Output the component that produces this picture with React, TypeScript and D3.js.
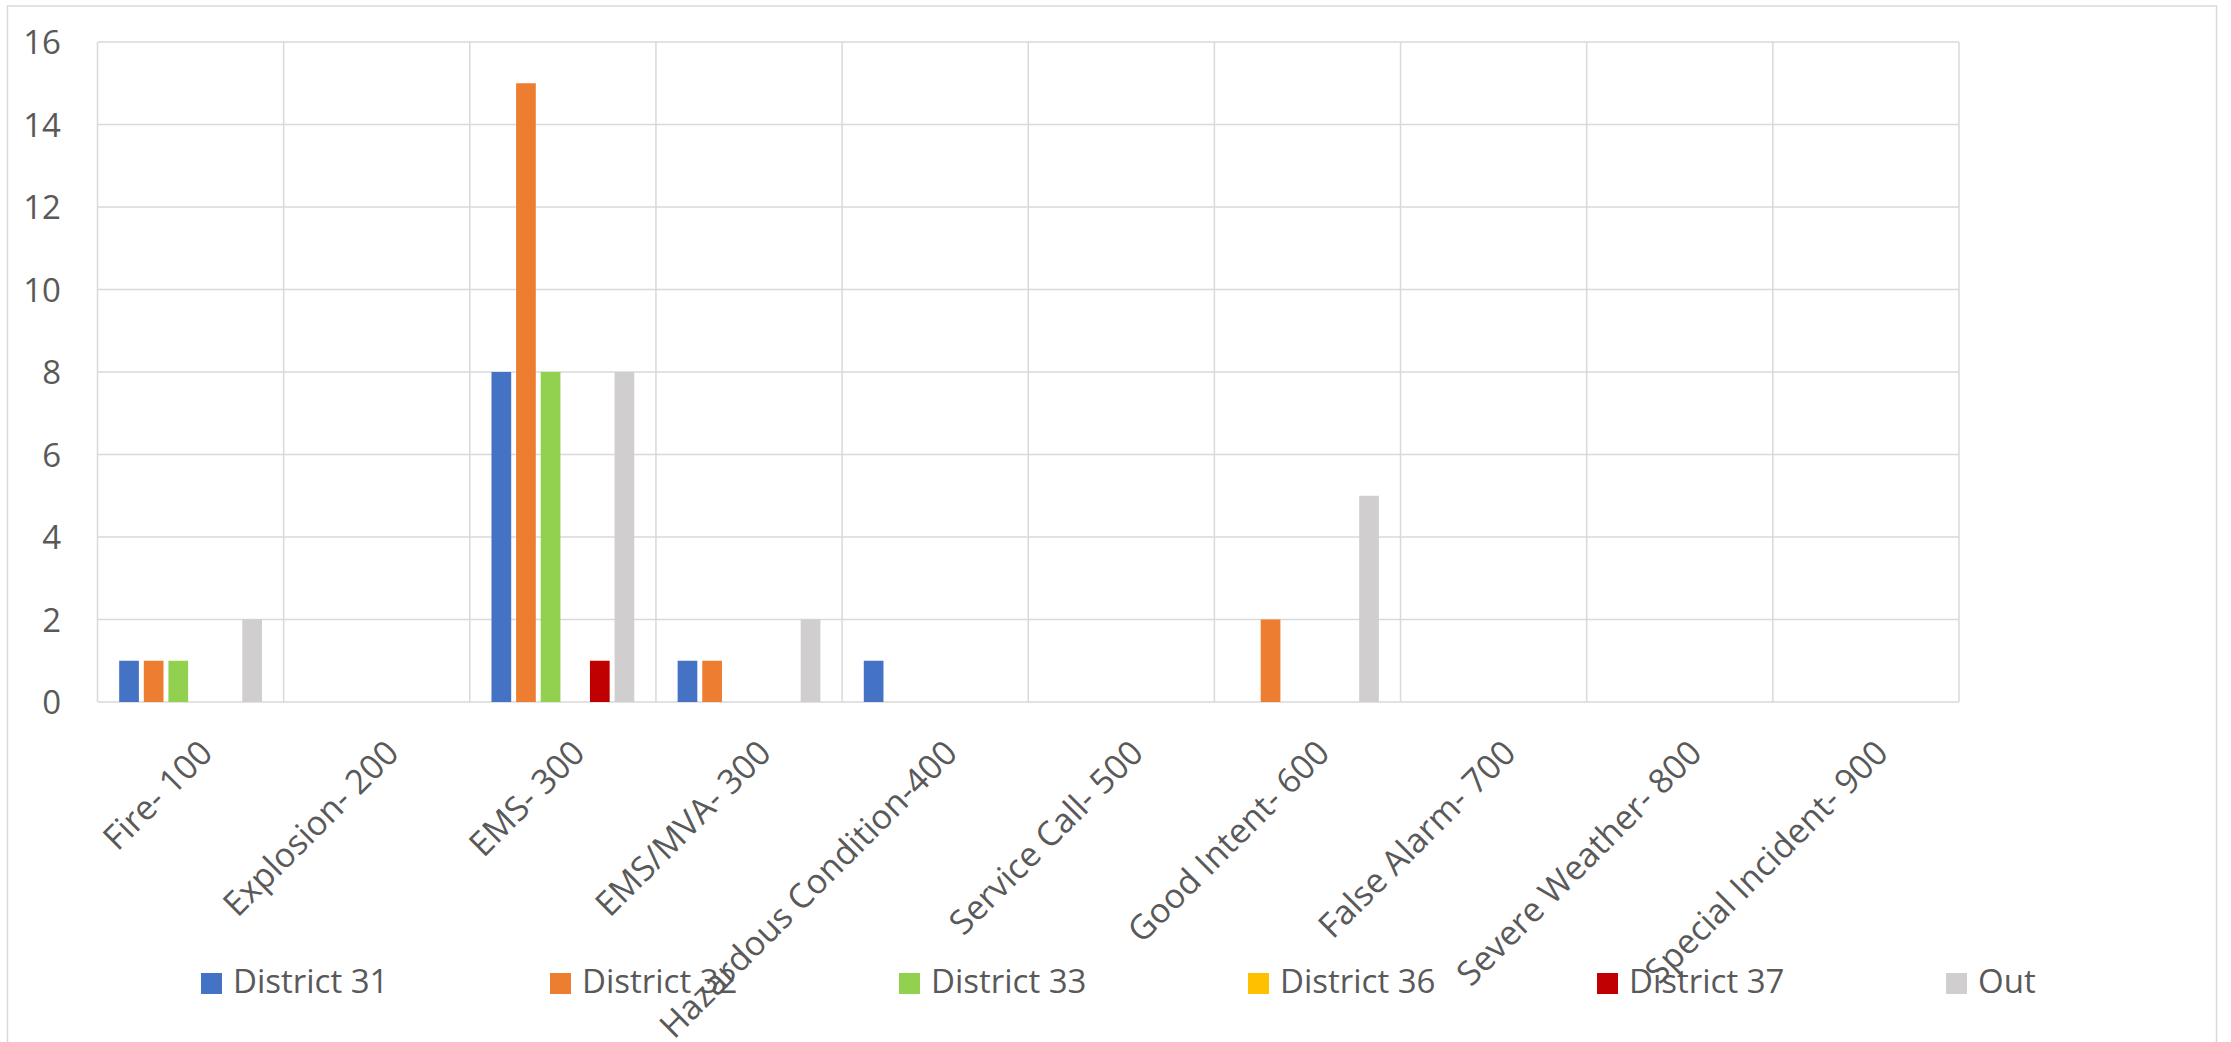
import React from "react";
import { scaleBand, scaleLinear, range } from "d3";

const categories = [
  "Fire- 100",
  "Explosion- 200",
  "EMS- 300",
  "EMS/MVA- 300",
  "Hazardous Condition-400",
  "Service Call- 500",
  "Good Intent- 600",
  "False Alarm- 700",
  "Severe Weather- 800",
  "Special Incident- 900",
];

const seriesNames = ["District 31", "District 32", "District 33", "District 36", "District 37", "Out"];
const seriesColors = ["#4472C4", "#ED7D31", "#92D050", "#FFC000", "#C00000", "#D0CECE"];

const district31 = [1, 0, 8, 1, 1, 0, 0, 0, 0, 0];
const district32 = [1, 0, 15, 1, 0, 0, 2, 0, 0, 0];
const district33 = [1, 0, 8, 0, 0, 0, 0, 0, 0, 0];
const district36 = [0, 0, 0, 0, 0, 0, 0, 0, 0, 0];
const district37 = [0, 0, 1, 0, 0, 0, 0, 0, 0, 0];
const out = [2, 0, 8, 2, 0, 0, 5, 0, 0, 0];

const seriesValues = [district31, district32, district33, district36, district37, out];
const yTicks = [0, 2, 4, 6, 8, 10, 12, 14, 16];

const WIDTH = 2231;
const HEIGHT = 1042;
const FONT = "'Open Sans', sans-serif";
const TEXT = "#595959";
const GRID = "#D9D9D9";

const App = () => {
  const plot = { left: 97.5, right: 1959, top: 42, bottom: 702 };

  const x0 = scaleBand<string>().domain(categories).range([plot.left, plot.right]).padding(0);
  const groupPad = x0.bandwidth() * 0.1165;
  const x1 = scaleBand<string>()
    .domain(seriesNames)
    .range([groupPad, x0.bandwidth() - groupPad])
    .paddingInner(0.2)
    .paddingOuter(0);
  const y = scaleLinear().domain([0, 16]).range([plot.bottom, plot.top]);

  const bounds = range(categories.length + 1).map((i) => plot.left + i * x0.step());

  return (
    <div style={{ position: "absolute", left: 0, top: 0 }}>
      <svg width={WIDTH} height={HEIGHT} style={{ display: "block", background: "#fff" }}>
        {/* chart border */}
        <rect x={7.5} y={6} width={2209} height={1060} fill="#fff" stroke={GRID} strokeWidth={1.5} />

        {/* horizontal grid + y labels */}
        {yTicks.map((t) => (
          <g key={t}>
            <line x1={plot.left} x2={plot.right} y1={y(t)} y2={y(t)} stroke={GRID} strokeWidth={1.5} />
            <text
              x={61}
              y={y(t) + 12}
              textAnchor="end"
              fontFamily={FONT}
              fontSize={33}
              fill={TEXT}
            >
              {t}
            </text>
          </g>
        ))}

        {/* vertical grid */}
        {bounds.map((bx, i) => (
          <line key={i} x1={bx} x2={bx} y1={plot.top} y2={plot.bottom} stroke={GRID} strokeWidth={1.5} />
        ))}

        {/* bars */}
        {categories.map((c, ci) => (
          <g key={c} transform={`translate(${x0(c)}, 0)`}>
            {seriesNames.map((s, si) => {
              const v = seriesValues[si][ci];
              if (!v) return null;
              return (
                <rect
                  key={s}
                  x={x1(s)}
                  y={y(v)}
                  width={x1.bandwidth()}
                  height={y(0) - y(v)}
                  fill={seriesColors[si]}
                />
              );
            })}
          </g>
        ))}

        {/* x labels */}
        {categories.map((c) => {
          const cx = (x0(c) as number) + x0.bandwidth() / 2;
          return (
            <text
              key={c}
              transform={`translate(${cx + 24}, ${plot.bottom + 53}) rotate(-45)`}
              textAnchor="end"
              fontFamily={FONT}
              fontSize={34}
              fill={TEXT}
            >
              {c}
            </text>
          );
        })}

        {/* legend */}
        {seriesNames.map((s, i) => {
          const lx = 201 + i * 349;
          return (
            <g key={s}>
              <rect x={lx} y={973} width={21} height={21} fill={seriesColors[i]} />
              <text x={lx + 32} y={993} fontFamily={FONT} fontSize={33} fill={TEXT}>
                {s}
              </text>
            </g>
          );
        })}
      </svg>
    </div>
  );
};

export default App;
